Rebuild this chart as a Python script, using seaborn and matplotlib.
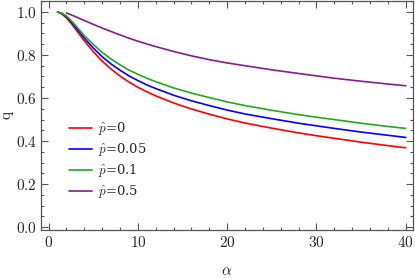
import numpy as np
import pandas as pd
import matplotlib
matplotlib.use("Agg")
import matplotlib.pyplot as plt
import seaborn as sns
from matplotlib.ticker import MultipleLocator, FuncFormatter

# data
alpha_a = [1, 1.5, 2, 2.5, 3, 3.5, 4, 5, 6, 7, 8, 9, 10, 11, 12, 14, 16, 18, 20, 22, 25, 28, 30, 32, 35, 38, 40]
q_p0 = [1.000, 0.990, 0.972, 0.948, 0.921, 0.893, 0.866, 0.815, 0.771, 0.734, 0.702, 0.674, 0.650, 0.629,
        0.610, 0.577, 0.549, 0.525, 0.503, 0.484, 0.460, 0.438, 0.425, 0.413, 0.395, 0.379, 0.369]
q_p005 = [1.000, 0.992, 0.977, 0.955, 0.930, 0.904, 0.878, 0.832, 0.792, 0.758, 0.729, 0.703, 0.681, 0.661,
          0.644, 0.613, 0.587, 0.565, 0.544, 0.526, 0.504, 0.483, 0.471, 0.459, 0.442, 0.427, 0.417]
q_p01 = [1.000, 0.994, 0.981, 0.961, 0.938, 0.914, 0.890, 0.849, 0.812, 0.781, 0.754, 0.730, 0.710, 0.692,
         0.676, 0.647, 0.623, 0.602, 0.582, 0.565, 0.543, 0.523, 0.511, 0.500, 0.483, 0.468, 0.459]
alpha_b = [2, 3, 4, 5, 6, 7, 8, 9, 10, 11, 12, 14, 16, 18, 20, 22, 25, 28, 30, 32, 35, 38, 40]
q_p05 = [0.995, 0.978, 0.960, 0.942, 0.925, 0.909, 0.893, 0.878, 0.864, 0.851, 0.839, 0.816, 0.796, 0.778,
         0.763, 0.750, 0.731, 0.714, 0.703, 0.692, 0.678, 0.665, 0.657]
labels = [r"$\hat{p}$=0", r"$\hat{p}$=0.05", r"$\hat{p}$=0.1", r"$\hat{p}$=0.5"]
colors = ["#ff0000", "#0000ff", "#1faa1f", "#8b1a8b"]

sns.set_style("ticks")
plt.rcParams["mathtext.fontset"] = "cm"
plt.rcParams["font.family"] = ["DejaVu Serif"]

df = pd.concat([
    pd.DataFrame({"alpha": alpha_a, "q": q_p0, "p": labels[0]}),
    pd.DataFrame({"alpha": alpha_a, "q": q_p005, "p": labels[1]}),
    pd.DataFrame({"alpha": alpha_a, "q": q_p01, "p": labels[2]}),
    pd.DataFrame({"alpha": alpha_b, "q": q_p05, "p": labels[3]}),
])

fig = plt.figure(figsize=(4.15, 2.79), dpi=100)
ax = fig.add_axes([0.0988, 0.177, 0.896, 0.819])
sns.lineplot(data=df, x="alpha", y="q", hue="p", hue_order=labels,
             palette=colors, linewidth=1.2, ax=ax, sort=True, estimator=None)

ax.set_xlim(-0.85, 40.8)
ax.set_ylim(-0.011, 1.05)
ax.xaxis.set_major_locator(MultipleLocator(10))
ax.xaxis.set_minor_locator(MultipleLocator(2))
ax.yaxis.set_major_locator(MultipleLocator(0.2))
ax.yaxis.set_minor_locator(MultipleLocator(0.05))
ax.xaxis.set_major_formatter(FuncFormatter(lambda v, p: r"$%d$" % round(v)))
ax.yaxis.set_major_formatter(FuncFormatter(lambda v, p: r"$%.1f$" % v))
edge = "#555555"
for s in ax.spines.values():
    s.set_visible(True)
    s.set_color(edge)
    s.set_linewidth(0.9)
ax.tick_params(which="both", direction="in", top=True, right=True, color=edge, width=0.8)
ax.tick_params(which="major", length=5, labelsize=11)
ax.tick_params(axis="y", which="major", pad=3)
ax.tick_params(axis="x", which="major", pad=4)
ax.tick_params(which="minor", length=2.5)

ax.set_xlabel(r"$\alpha$", fontsize=11)
ax.set_ylabel(r"$\mathrm{q}$", fontsize=11)
ax.xaxis.set_label_coords(0.5, -0.15)
ax.yaxis.set_label_coords(-0.066, 0.5)

leg = ax.legend(loc="lower left", bbox_to_anchor=(0.062, 0.105), frameon=False,
                fontsize=9.5, handlelength=1.75, handletextpad=0.4, labelspacing=0.3,
                borderaxespad=0)
leg.set_title(None)

fig.savefig("out.png", dpi=100)
